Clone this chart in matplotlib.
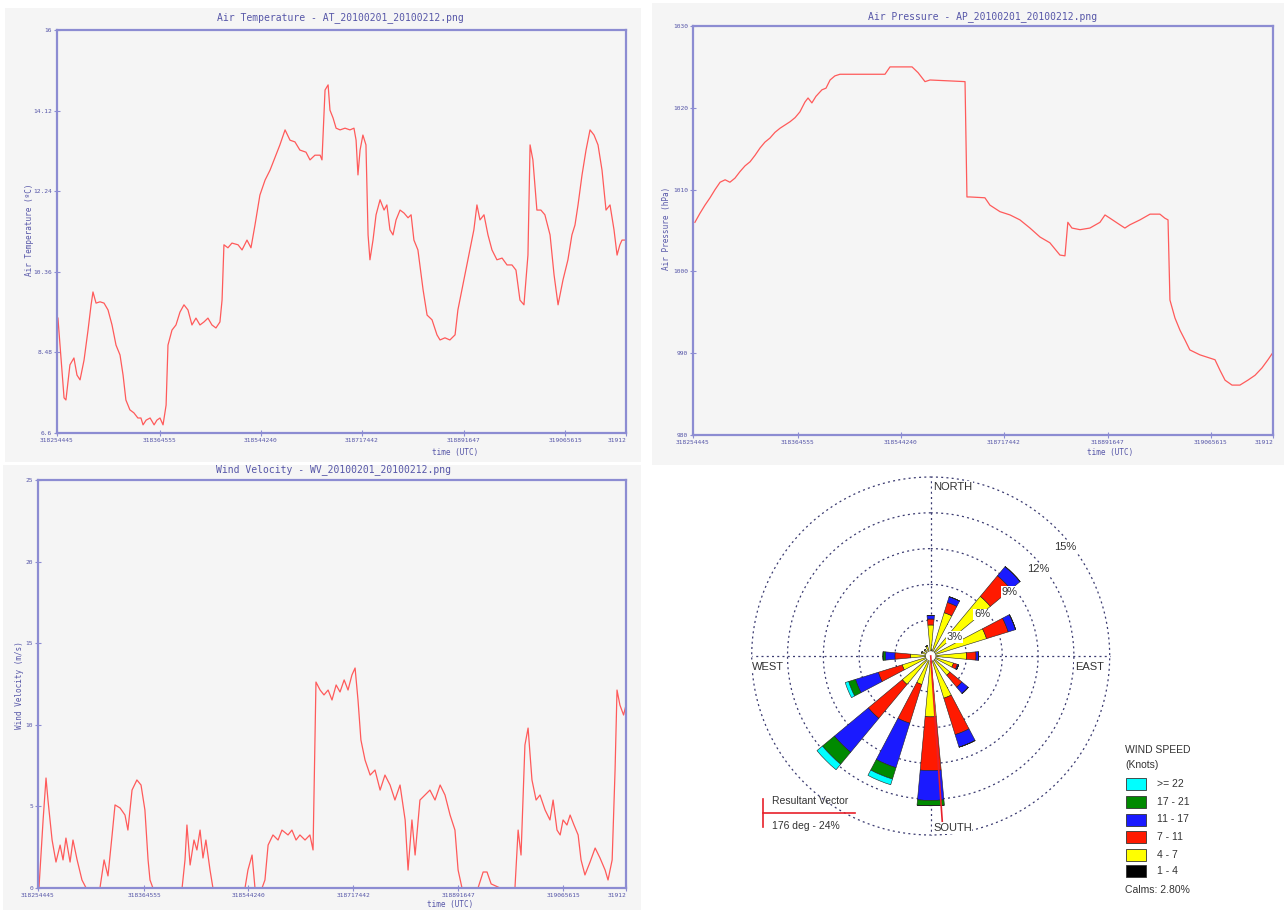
import numpy as np
import matplotlib.pyplot as plt
from matplotlib.patches import Rectangle
from matplotlib.lines import Line2D

W, H = 1284, 910

# shared x axis (sample index over the window) and its tick labels
tick_pos = [0, 43.8, 86.6, 129.7, 173.0, 216.1, 242]
tick_labels = ['318254445', '318364555', '318544240', '318717442',
               '318891647', '319065615', '31912']

# air temperature (degC)
at_t = [0.4, 3.0, 3.8, 5.5, 7.2, 8.5, 9.8, 11.5, 13.2, 14.5, 15.3, 16.6, 18.3, 20.0,
        21.7, 23.4, 25.1, 26.8, 28.1, 29.3, 31.0, 32.7, 34.4, 35.7, 36.6, 37.9, 39.6,
        41.3, 42.5, 43.8, 45.1, 46.4, 47.2, 48.9, 50.6, 52.3, 54.0, 55.7, 57.4, 59.1,
        60.8, 62.5, 64.2, 65.9, 67.6, 69.3, 70.2, 71.0, 72.7, 74.4, 77.0, 78.7, 80.8,
        82.5, 84.2, 86.3, 88.5, 90.6, 93.1, 94.8, 97.0, 99.1, 101.2, 103.3, 105.9,
        107.6, 109.7, 111.9, 112.7, 114.0, 115.3, 116.1, 117.4, 118.7, 120.4, 122.5,
        124.6, 126.3, 127.2, 128.0, 128.9, 130.1, 131.4, 132.3, 133.1, 134.4, 135.7,
        137.4, 139.1, 140.3, 141.6, 142.9, 144.2, 145.9, 147.6, 149.3, 150.6, 151.8,
        153.5, 155.7, 157.4, 159.5, 161.6, 162.9, 165.0, 167.1, 169.3, 170.5, 172.2,
        173.9, 175.6, 177.3, 178.6, 179.9, 181.6, 183.3, 185.0, 187.1, 189.3, 191.4,
        193.5, 195.2, 196.9, 198.6, 200.3, 201.2, 202.4, 204.1, 205.8, 207.5, 209.7,
        211.4, 213.1, 215.2, 217.3, 219.0, 220.3, 221.6, 223.3, 225.0, 226.7, 228.4,
        230.1, 231.8, 233.5, 235.2, 236.9, 238.2, 239.4, 240.3, 241.6]
at_v = [9.28, 7.42, 7.37, 8.19, 8.35, 7.95, 7.84, 8.30, 9.00, 9.59, 9.89, 9.63, 9.66, 9.63,
        9.47, 9.12, 8.65, 8.42, 7.95, 7.37, 7.14, 7.07, 6.95, 6.95, 6.79, 6.90, 6.95,
        6.79, 6.90, 6.95, 6.79, 7.25, 8.65, 9.00, 9.12, 9.42, 9.59, 9.47, 9.12, 9.28,
        9.12, 9.19, 9.28, 9.12, 9.05, 9.19, 9.70, 10.99, 10.92, 11.03, 10.99, 10.87,
        11.10, 10.92, 11.45, 12.15, 12.50, 12.73, 13.08, 13.32, 13.67, 13.43, 13.39,
        13.20, 13.15, 12.97, 13.08, 13.08, 12.97, 14.60, 14.72, 14.13, 13.95, 13.71,
        13.67, 13.71, 13.67, 13.71, 13.43, 12.62, 13.20, 13.55, 13.32, 11.22, 10.64,
        11.10, 11.69, 12.04, 11.80, 11.92, 11.34, 11.22, 11.57, 11.80, 11.73, 11.62,
        11.69, 11.10, 10.87, 9.94, 9.35, 9.24, 8.89, 8.77, 8.82, 8.77, 8.89, 9.47, 9.94,
        10.40, 10.87, 11.34, 11.92, 11.57, 11.69, 11.22, 10.87, 10.64, 10.68, 10.52,
        10.52, 10.40, 9.70, 9.59, 10.75, 13.32, 12.97, 11.80, 11.80, 11.69, 11.22,
        10.29, 9.59, 10.17, 10.64, 11.22, 11.45, 11.92, 12.62, 13.20, 13.67, 13.55,
        13.32, 12.73, 11.80, 11.92, 11.34, 10.75, 10.99, 11.10, 11.10]

# air pressure (hPa)
ap_t = [0.8, 2.9, 5.0, 7.1, 9.2, 11.3, 13.4, 15.4, 17.5, 19.6, 21.7, 23.8, 25.9, 28.0,
        30.0, 32.1, 34.2, 36.3, 38.4, 40.5, 42.6, 44.6, 46.7, 48.0, 49.6, 51.3, 53.8,
        55.5, 57.2, 59.2, 61.3, 80.1, 82.2, 91.4, 93.9, 96.8, 98.9, 113.5, 114.3, 115.6,
        121.8, 123.9, 128.1, 132.3, 136.4, 140.6, 144.8, 148.9, 153.1, 155.2, 156.4,
        158.1, 161.5, 165.6, 169.8, 171.9, 174.0, 178.1, 180.2, 182.3, 186.5, 190.7,
        194.8, 196.9, 198.2, 199.0, 201.1, 203.2, 205.3, 207.3, 211.5, 215.7, 217.8,
        219.9, 222.0, 224.9, 228.2, 231.5, 234.5, 237.4, 239.9, 242.0]
ap_v = [1006.0, 1007.1, 1008.1, 1009.0, 1010.0, 1010.9, 1011.2, 1010.9, 1011.4, 1012.2,
        1012.9, 1013.4, 1014.2, 1015.1, 1015.8, 1016.3, 1017.0, 1017.5, 1017.9, 1018.3,
        1018.8, 1019.5, 1020.7, 1021.2, 1020.6, 1021.4, 1022.2, 1022.4, 1023.4, 1023.9,
        1024.1, 1024.1, 1025.0, 1025.0, 1024.3, 1023.2, 1023.4, 1023.2, 1009.1, 1009.1,
        1009.0, 1008.1, 1007.3, 1006.9, 1006.3, 1005.3, 1004.2, 1003.5, 1002.0, 1001.9,
        1006.0, 1005.3, 1005.1, 1005.3, 1006.0, 1006.9, 1006.5, 1005.7, 1005.3, 1005.7,
        1006.3, 1007.0, 1007.0, 1006.5, 1006.3, 996.5, 994.3, 992.8, 991.6, 990.4, 989.8,
        989.4, 989.2, 987.9, 986.7, 986.1, 986.1, 986.7, 987.3, 988.2, 989.2, 990.1]

# wind velocity (m/s)
wv_t = [0.4, 2.1, 3.3, 4.1, 5.8, 7.4, 9.1, 10.3, 11.5, 13.2, 14.4, 16.1, 18.1, 19.8, 25.5,
        27.2, 28.8, 30.5, 31.7, 33.8, 35.8, 37.0, 38.7, 40.7, 42.4, 44.0, 45.3, 46.1,
        47.3, 59.3, 60.5, 61.3, 62.6, 64.2, 65.4, 66.7, 67.9, 69.1, 70.8, 72.0, 85.2,
        86.4, 88.1, 89.3, 92.2, 93.4, 94.7, 96.7, 98.8, 100.4, 102.9, 104.5, 106.2,
        107.8, 109.9, 111.9, 113.2, 114.4, 116.1, 117.7, 119.4, 121.0, 122.7, 124.3,
        126.0, 127.6, 129.2, 130.5, 131.7, 132.9, 134.6, 136.7, 138.7, 140.8, 142.8,
        144.9, 146.9, 149.0, 151.1, 152.3, 153.9, 155.2, 157.2, 159.3, 161.3, 163.4,
        165.5, 167.5, 169.6, 171.6, 172.9, 174.5, 181.1, 183.2, 184.8, 186.5, 190.2,
        196.3, 197.6, 198.8, 200.4, 201.7, 203.3, 205.0, 206.6, 208.7, 210.7, 212.0,
        213.6, 214.9, 216.1, 217.7, 219.0, 220.6, 222.3, 223.5, 225.1, 227.2, 229.3,
        231.3, 233.4, 234.6, 236.3, 237.5, 238.3, 239.5, 241.0, 242.0]
wv_v = [0, 4.17, 6.74, 5.39, 2.94, 1.59, 2.63, 1.72, 3.06, 1.59, 2.94, 1.72, 0.49, 0, 0,
        1.72, 0.74, 3.25, 5.09, 4.90, 4.47, 3.55, 6.00, 6.62, 6.31, 4.78, 1.72, 0.49, 0,
        0, 1.72, 3.86, 1.41, 2.94, 2.33, 3.55, 1.84, 2.94, 1.10, 0, 0, 1.10, 2.02, 0, 0,
        0.49, 2.63, 3.25, 2.94, 3.55, 3.25, 3.55, 2.94, 3.25, 2.94, 3.25, 2.33, 12.62,
        12.13, 11.83, 12.13, 11.52, 12.44, 12.01, 12.75, 12.13, 13.05, 13.48, 11.52, 9.07,
        7.84, 6.92, 7.23, 6.00, 6.92, 6.31, 5.39, 6.31, 4.17, 1.10, 4.17, 2.02, 5.39,
        5.70, 6.00, 5.39, 6.31, 5.70, 4.47, 3.55, 1.10, 0, 0, 0.98, 0.98, 0.25, 0, 0,
        3.55, 2.02, 8.76, 9.80, 6.62, 5.39, 5.70, 4.78, 4.17, 5.39, 3.55, 3.25, 4.17,
        3.86, 4.47, 3.86, 3.25, 1.72, 0.80, 1.59, 2.45, 1.84, 1.10, 0.49, 1.72, 7.23,
        12.13, 11.21, 10.60, 11.21]

# wind rose: 16 directions, frequency (%) per speed class, inner to outer
directions = [0, 22.5, 45, 67.5, 90, 112.5, 135, 157.5, 180, 202.5, 225, 247.5,
              270, 292.5, 315, 337.5]
speed_classes = ['1 - 4', '4 - 7', '7 - 11', '11 - 17', '17 - 21', '>= 22']
freq_1_4 = [0.4] * 16
freq_4_7 = [2.2, 3.4, 6.1, 4.5, 2.6, 1.6, 1.7, 3.3, 4.7, 2.1, 2.7, 2.1, 1.3, 0.4, 0.3, 0.5]
freq_7_11 = [0.5, 0.9, 2.25, 1.9, 0.8, 0.35, 1.3, 3.2, 4.5, 3.4, 3.7, 2.1, 1.3, 0, 0, 0]
freq_11_17 = [0.3, 0.5, 1.0, 0.65, 0.2, 0.1, 0.7, 1.1, 2.5, 3.9, 3.7, 2.0, 0.8, 0, 0, 0]
freq_17_21 = [0, 0, 0, 0, 0, 0, 0, 0, 0.45, 1.0, 1.3, 0.6, 0.2, 0, 0, 0]
freq_22 = [0, 0, 0, 0, 0, 0, 0, 0, 0, 0.5, 0.6, 0.3, 0, 0, 0, 0]
class_colors = ['#000000', '#ffff00', '#ff1a00', '#1a1aff', '#008a00', '#00ffff']
ring_levels = [3, 6, 9, 12, 15]
resultant_dir = 176
resultant_len = 14.4
calms = 2.80

BG = '#f5f5f5'
AXC = '#8c8cd2'
TXT = '#5656a8'
LINE = '#ff5a5a'


def fr(x0, y0, x1, y1):
    # pixel box (top-left origin) -> figure fraction rect
    return [x0 / W, 1 - y1 / H, (x1 - x0) / W, (y1 - y0) / H]


def fp(x, y):
    return x / W, 1 - y / H


fig = plt.figure(figsize=(W / 100, H / 100), dpi=100)
fig.patch.set_facecolor('white')

# grey panels behind the three time-series
for box in [(5, 8, 641, 462), (652, 3, 1284, 465), (3, 465, 641, 910)]:
    fig.add_artist(Rectangle((box[0] / W, 1 - box[3] / H), (box[2] - box[0]) / W,
                             (box[3] - box[1]) / H, transform=fig.transFigure,
                             facecolor=BG, edgecolor='none', zorder=0))


def series_panel(rect, t, v, ylo, yhi, yticks, ytlabels, title, ylabel, title_xy, xlab_xy, ylab_xy):
    ax = fig.add_axes(rect)
    ax.set_facecolor(BG)
    ax.plot(t, v, color=LINE, lw=0.9)
    ax.set_xlim(0, 242)
    ax.set_ylim(ylo, yhi)
    ax.set_xticks(tick_pos)
    ax.set_xticklabels(tick_labels, fontsize=4.5, color=TXT, family='DejaVu Sans Mono')
    ax.get_xticklabels()[-1].set_horizontalalignment('right')
    ax.set_yticks(yticks)
    ax.set_yticklabels(ytlabels, fontsize=4.5, color=TXT, family='DejaVu Sans Mono')
    ax.tick_params(direction='inout', length=4, width=0.8, color=AXC, pad=1.5)
    for s in ax.spines.values():
        s.set_color(AXC)
        s.set_linewidth(1.6)
    fig.text(*title_xy, title, ha='center', va='center', fontsize=7,
             color=TXT, family='DejaVu Sans Mono')
    fig.text(*xlab_xy, 'time (UTC)', ha='center', va='center', fontsize=5.5,
             color=TXT, family='DejaVu Sans Mono')
    fig.text(*ylab_xy, ylabel, ha='center', va='center', fontsize=5.5,
             color=TXT, family='DejaVu Sans Mono', rotation=90)
    return ax


series_panel(fr(57, 30, 626, 433), at_t, at_v, 6.6, 16,
             [6.6, 8.48, 10.36, 12.24, 14.12, 16],
             ['6.6', '8.48', '10.36', '12.24', '14.12', '16'],
             'Air Temperature - AT_20100201_20100212.png', 'Air Temperature (ºC)',
             fp(340, 18), fp(455, 452), fp(29, 230))

series_panel(fr(693, 26, 1273, 435), ap_t, ap_v, 980, 1030,
             [980, 990, 1000, 1010, 1020, 1030],
             ['980', '990', '1000', '1010', '1020', '1030'],
             'Air Pressure - AP_20100201_20100212.png', 'Air Pressure (hPa)',
             fp(983, 17), fp(1110, 453), fp(667, 228))

series_panel(fr(38, 480, 626, 888), wv_t, wv_v, 0, 25,
             [0, 5, 10, 15, 20, 25],
             ['0', '5', '10', '15', '20', '25'],
             'Wind Velocity - WV_20100201_20100212.png', 'Wind Velocity (m/s)',
             fp(333, 470), fp(450, 904), fp(20, 685))

# ---- wind rose ----
cx, cy, rpx = 930.7, 656, 179 * 15.6 / 15
rax = fig.add_axes(fr(cx - rpx, cy - rpx, cx + rpx, cy + rpx), projection='polar')
rax.set_theta_zero_location('N')
rax.set_theta_direction(-1)
rax.set_ylim(0, 15.6)
rax.set_facecolor('none')
rax.grid(False)
rax.set_xticks([])
rax.set_yticks([])
rax.spines['polar'].set_visible(False)

DOT = '#3a3a70'
circ = np.linspace(0, 2 * np.pi, 400)
for r in ring_levels:
    rax.plot(circ, [r] * len(circ), color=DOT, lw=0.9, ls=(0, (1.6, 2.6)), zorder=1)
for d in [0, 90, 180, 270]:
    rax.plot([np.radians(d)] * 2, [0, 15], color=DOT, lw=0.9, ls=(0, (1.6, 2.6)), zorder=1)

theta = np.radians(directions)
bottom = np.zeros(len(directions))
for vals, col in zip([freq_1_4, freq_4_7, freq_7_11, freq_11_17, freq_17_21, freq_22],
                     class_colors):
    vals = np.array(vals)
    rax.bar(theta, vals, width=np.radians(10.5), bottom=bottom, color=col,
            edgecolor='#222222', linewidth=0.4, zorder=3)
    bottom = bottom + vals

rax.plot(circ, [0.35] * len(circ), color='black', lw=0.8, zorder=4)
rax.fill(circ, [0.35] * len(circ), color='white', zorder=4)
rax.plot([0, np.radians(resultant_dir)], [0, resultant_len], color='#e8202a', lw=1.2, zorder=5)

for r in ring_levels:
    rax.text(np.radians(51), r - 0.45, f'{r}%', fontsize=8, color='#333333',
             family='Liberation Sans', ha='center', va='center', zorder=6,
             bbox=dict(facecolor='white', edgecolor='none', pad=0.6))

lab = dict(fontsize=8, color='#333333', family='Liberation Sans', va='center',
           bbox=dict(facecolor='white', edgecolor='none', pad=0.5))
fig.text(*fp(933, 487), 'NORTH', ha='left', **lab)
fig.text(*fp(933, 828), 'SOUTH', ha='left', **lab)
fig.text(*fp(752, 667), 'WEST', ha='left', **lab)
fig.text(*fp(1075, 667), 'EAST', ha='left', **lab)

# resultant vector key
fig.add_artist(Line2D([763 / W, 855 / W], [1 - 813 / H] * 2, color='#e8202a', lw=1.2))
fig.add_artist(Line2D([763 / W] * 2, [1 - 799 / H, 1 - 827 / H], color='#e8202a', lw=1.2))
fig.text(*fp(772, 801), 'Resultant Vector', ha='left', va='center', fontsize=7.5,
         color='#333333', family='Liberation Sans')
fig.text(*fp(772, 826), f'{resultant_dir} deg - 24%', ha='left', va='center', fontsize=7.5,
         color='#333333', family='Liberation Sans')

# speed legend
lt = dict(fontsize=7.5, color='#333333', family='Liberation Sans', va='center', ha='left')
fig.text(*fp(1125, 750), 'WIND SPEED', **lt)
fig.text(*fp(1125, 765), '(Knots)', **lt)
ycent = [784, 802, 819.5, 837, 854.5, 871]
for yc, name, col in zip(ycent, speed_classes[::-1], class_colors[::-1]):
    fig.add_artist(Rectangle((1126 / W, 1 - (yc + 6) / H), 20 / W, 12 / H,
                             transform=fig.transFigure, facecolor=col,
                             edgecolor='#333333', linewidth=0.6))
    fig.text(*fp(1157, yc), name, **lt)
fig.text(*fp(1125, 890), f'Calms: {calms:.2f}%', **lt)

fig.savefig('out.png', dpi=100, facecolor='white')
